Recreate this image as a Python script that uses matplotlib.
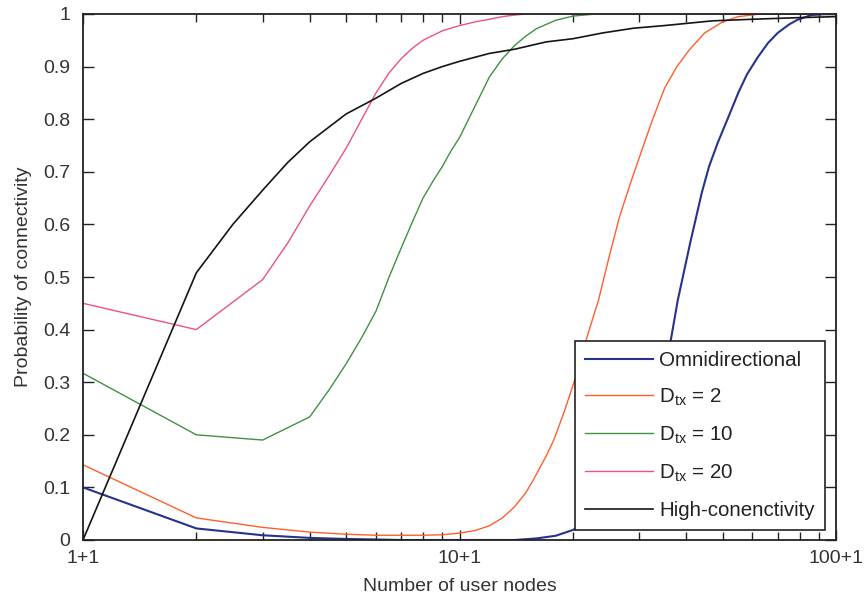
import matplotlib
matplotlib.use("Agg")
import matplotlib.pyplot as plt
from matplotlib.ticker import FixedLocator, FixedFormatter, NullFormatter

plt.rcParams['font.family'] = ['Liberation Sans', 'DejaVu Sans']

# ---- data ----
n_omni = [1, 2, 3, 4, 5, 6, 7, 10, 14, 16, 18, 20, 22, 24, 26, 28, 30, 32, 34, 36, 38, 41, 44, 46,
          48.5, 51.5, 55, 58, 62, 66, 70, 75, 79, 86, 95, 100]
p_omni = [0.10, 0.022, 0.009, 0.004, 0.002, 0.001, 0.0, 0.0, 0.0, 0.003, 0.008, 0.019, 0.035, 0.05,
          0.075, 0.105, 0.145, 0.2, 0.27, 0.36, 0.456, 0.565, 0.66, 0.71, 0.755, 0.8, 0.85, 0.885,
          0.918, 0.945, 0.964, 0.98, 0.989, 0.998, 1.0, 1.0]

n_d2 = [1, 2, 3, 4, 5, 6, 7, 8, 9, 10, 11, 12, 13, 14, 15, 15.7, 17, 17.8, 19, 20.1, 21, 21.9, 23.4,
        25, 26.6, 28.5, 30.5, 32.6, 35.1, 37.8, 40.8, 44.8, 50, 55, 63, 100]
p_d2 = [0.143, 0.042, 0.024, 0.015, 0.011, 0.009, 0.009, 0.009, 0.010, 0.013, 0.018, 0.027, 0.042,
        0.063, 0.09, 0.114, 0.16, 0.19, 0.245, 0.298, 0.345, 0.39, 0.456, 0.54, 0.614, 0.68, 0.741,
        0.8, 0.86, 0.9, 0.932, 0.964, 0.985, 0.995, 1.0, 1.0]

n_d10 = [1, 2, 3, 4, 4.5, 5, 5.5, 6, 6.5, 7, 7.5, 8, 8.5, 9, 9.5, 10, 11, 12, 13, 14, 15, 16, 18,
         20, 23, 100]
p_d10 = [0.317, 0.20, 0.19, 0.234, 0.285, 0.335, 0.385, 0.435, 0.5, 0.555, 0.605, 0.65, 0.682,
         0.71, 0.74, 0.765, 0.825, 0.88, 0.915, 0.94, 0.958, 0.972, 0.988, 0.996, 1.0, 1.0]

n_d20 = [1, 2, 3, 3.5, 4, 4.5, 5, 5.5, 6, 6.5, 7, 7.5, 8, 9, 10, 11, 12, 13, 14, 15, 100]
p_d20 = [0.45, 0.40, 0.495, 0.565, 0.635, 0.692, 0.745, 0.8, 0.85, 0.888, 0.915, 0.935, 0.95,
         0.968, 0.978, 0.985, 0.99, 0.995, 0.998, 1.0, 1.0]

n_high = [1, 2, 2.5, 3, 3.5, 4, 5, 6, 7, 8, 9, 10, 12, 14, 17, 20, 24, 29, 35, 47, 60, 79, 100]
p_high = [0.0, 0.508, 0.6, 0.665, 0.718, 0.757, 0.81, 0.84, 0.868, 0.887, 0.90, 0.91, 0.925,
          0.933, 0.947, 0.953, 0.964, 0.973, 0.978, 0.987, 0.99, 0.993, 0.995]

series_labels = ['Omnidirectional', r'D$_{\mathregular{tx}}$ = 2', r'D$_{\mathregular{tx}}$ = 10',
                 r'D$_{\mathregular{tx}}$ = 20', 'High-conenctivity']
series_colors = ['#26338C', '#FF5F2E', '#3F9143', '#EE4F8E', '#151515']

x_tick_values = [1, 10, 100]
x_tick_labels = ['1+1', '10+1', '100+1']
y_tick_values = [0, 0.1, 0.2, 0.3, 0.4, 0.5, 0.6, 0.7, 0.8, 0.9, 1.0]
y_tick_labels = ['0', '0.1', '0.2', '0.3', '0.4', '0.5', '0.6', '0.7', '0.8', '0.9', '1']

# ---- figure ----
fig = plt.figure(figsize=(8.64, 6.0), dpi=100)
ax = fig.add_axes([83 / 864, 1 - 540 / 600, (836 - 83) / 864, (540 - 14) / 600])

data = [(n_omni, p_omni), (n_d2, p_d2), (n_d10, p_d10), (n_d20, p_d20), (n_high, p_high)]
widths = [1.5, 1.0, 1.0, 1.0, 1.2]
for (xs, ys), lab, col, lw in zip(data, series_labels, series_colors, widths):
    ax.plot(xs, ys, color=col, lw=lw, label=lab)

ax.set_xscale('log')
ax.set_xlim(1, 100)
ax.set_ylim(0, 1)

ax.xaxis.set_major_locator(FixedLocator(x_tick_values))
ax.xaxis.set_major_formatter(FixedFormatter(x_tick_labels))
ax.xaxis.set_minor_locator(FixedLocator([2, 3, 4, 5, 6, 7, 8, 9, 20, 30, 40, 50, 60, 70, 80, 90]))
ax.xaxis.set_minor_formatter(NullFormatter())
ax.yaxis.set_major_locator(FixedLocator(y_tick_values))
ax.yaxis.set_major_formatter(FixedFormatter(y_tick_labels))

ax.tick_params(axis='both', which='both', direction='in', top=True, right=True,
               width=1.0, color='#222222')
ax.tick_params(axis='x', which='major', length=7, labelsize=14, pad=7)
ax.tick_params(axis='x', which='minor', length=6)
ax.tick_params(axis='y', which='major', length=8, labelsize=14, pad=9)

for sp in ax.spines.values():
    sp.set_linewidth(1.3)
    sp.set_color('#222222')

ax.set_xlabel('Number of user nodes', fontsize=14, labelpad=8, color='#333333')
ax.set_ylabel('Probability of connectivity', fontsize=14, labelpad=8, color='#333333')
for t in ax.get_xticklabels() + ax.get_yticklabels():
    t.set_color('#333333')

leg = ax.legend(loc='lower right', bbox_to_anchor=(825 / 864, 1 - 530 / 600),
                bbox_transform=fig.transFigure, fontsize=14.8, frameon=True, fancybox=False,
                framealpha=1.0, handlelength=3.3, handletextpad=0.3, labelspacing=0.8,
                borderpad=0.5, borderaxespad=0.0)
leg.get_frame().set_edgecolor('#222222')
leg.get_frame().set_linewidth(1.2)
leg.set_zorder(5)
for t in leg.get_texts():
    t.set_color('#222222')

fig.savefig('out.png', dpi=100)
